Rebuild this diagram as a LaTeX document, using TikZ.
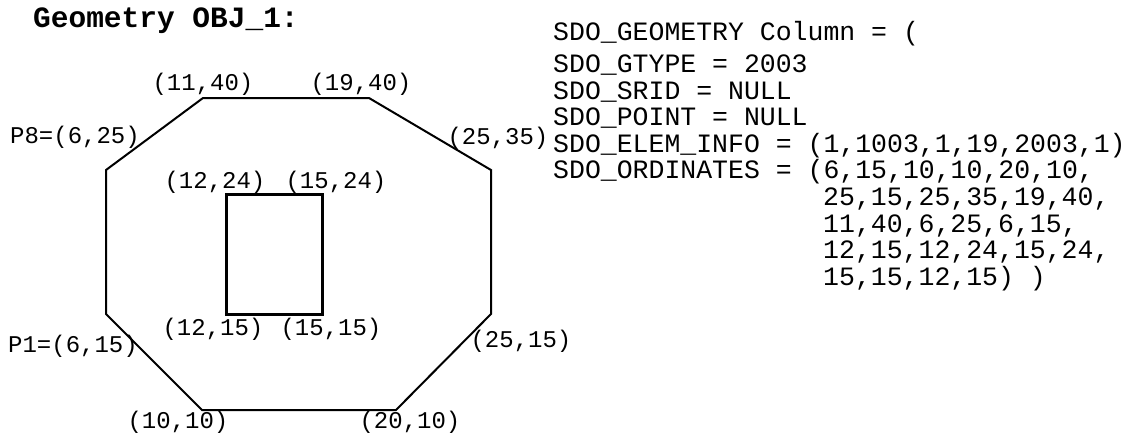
\documentclass[tikz,border=0pt]{standalone}
\usepackage{fontspec}
\newfontfamily\cour{Liberation Mono}
\begin{document}
\begin{tikzpicture}[x=1pt,y=-1pt,
  lbl/.style={font=\cour\fontsize{24}{24}\selectfont, inner sep=0pt, anchor=base},
  code/.style={font=\cour\fontsize{26.5}{26.5}\selectfont, inner sep=0pt, anchor=base west},
  titlestyle/.style={font=\cour\bfseries\fontsize{29.5}{29.5}\selectfont, inner sep=0pt, anchor=base west},
  outer/.style={line width=2pt, line join=miter},
  inner/.style={line width=3pt, line join=miter}]
\useasboundingbox (0,0) rectangle (1136,434);
% title
\node[titlestyle] (title) at (33,27) {Geometry OBJ\_1:};
% octagon vertices
\coordinate (p1) at (106,314);
\coordinate (p2) at (202,410);
\coordinate (p3) at (396,410);
\coordinate (p4) at (491,314);
\coordinate (p5) at (491,170);
\coordinate (p6) at (369,98);
\coordinate (p7) at (203,98);
\coordinate (p8) at (106,170);
\draw[outer] (p1) -- (p2) -- (p3) -- (p4) -- (p5) -- (p6) -- (p7) -- (p8) -- cycle;
% hole
\coordinate (r1) at (226,314);
\coordinate (r2) at (226,194);
\coordinate (r3) at (322,194);
\coordinate (r4) at (322,314);
\draw[inner] (r1) -- (r2) -- (r3) -- (r4) -- cycle;
% labels
\node[lbl] (l7) at (203,90) {(11,40)};
\node[lbl] (l6) at (361,90) {(19,40)};
\node[lbl] (l8) at (75,143) {P8=(6,25)};
\node[lbl] (l5) at (498,144) {(25,35)};
\node[lbl] (lr2) at (215,188) {(12,24)};
\node[lbl] (lr3) at (336,188) {(15,24)};
\node[lbl] (lr1) at (213,335) {(12,15)};
\node[lbl] (lr4) at (331,335) {(15,15)};
\node[lbl] (l1) at (73,352) {P1=(6,15)};
\node[lbl] (l4) at (521,347) {(25,15)};
\node[lbl] (l2) at (178,428) {(10,10)};
\node[lbl] (l3) at (410,428) {(20,10)};
% code text
\node[code] (c0) at (553,40.5) {SDO\_GEOMETRY Column = (};
\node[code] (c1) at (553,72.5) {SDO\_GTYPE = 2003};
\node[code] (c2) at (553,99.1) {SDO\_SRID = NULL};
\node[code] (c3) at (553,125.7) {SDO\_POINT = NULL};
\node[code] (c4) at (553,152.3) {SDO\_ELEM\_INFO = (1,1003,1,19,2003,1)};
\node[code] (c5) at (553,178.9) {SDO\_ORDINATES = (6,15,10,10,20,10,};
\node[code] (c6) at (823,205.5) {25,15,25,35,19,40,};
\node[code] (c7) at (823,232.1) {11,40,6,25,6,15,};
\node[code] (c8) at (823,258.7) {12,15,12,24,15,24,};
\node[code] (c9) at (823,285.3) {15,15,12,15) )};
\end{tikzpicture}
\end{document}
